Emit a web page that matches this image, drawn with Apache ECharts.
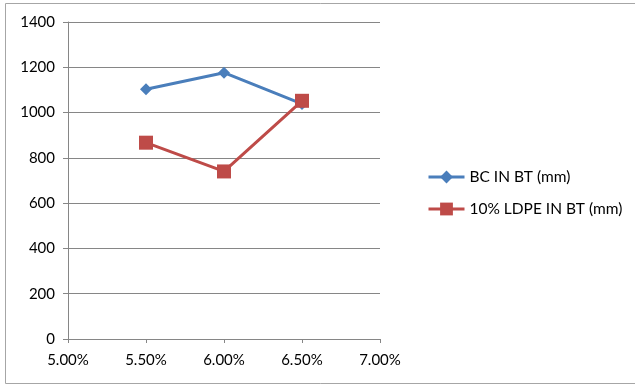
<!DOCTYPE html>
<html>
<head>
<meta charset="utf-8">
<script src="https://cdn.jsdelivr.net/npm/echarts@6/dist/echarts.min.js"></script>
<style>
html,body{margin:0;padding:0;background:#fff;}
#chart{width:635px;height:387px;}
</style>
</head>
<body>
<div id="chart"></div>
<script>
// Asphalt content (%) on the x axis
const contents = [5.5, 6.0, 6.5];
const seriesNames = ['BC IN BT (mm)', '10% LDPE IN BT (mm)'];
const bcValues = [1103, 1176, 1038];
const ldpeValues = [867, 740, 1052];
const yTicks = [0, 200, 400, 600, 800, 1000, 1200, 1400];

const chart = echarts.init(document.getElementById('chart'));
const font = 'Lato, "Open Sans", sans-serif';

chart.setOption({
  animation: false,
  textStyle: { fontFamily: font },
  graphic: [{
    type: 'rect',
    shape: { x: 5.5, y: 3.5, width: 640, height: 380 },
    style: { fill: 'none', stroke: '#a6a6a6', lineWidth: 1 }
  }],
  grid: { left: 68, right: 255, top: 22, bottom: 48, containLabel: false },
  xAxis: {
    type: 'value',
    min: 5.0, max: 7.0, interval: 0.5,
    axisLine: { show: true, lineStyle: { color: '#868686', width: 1 } },
    axisTick: { show: true, length: 4, lineStyle: { color: '#868686' } },
    splitLine: { show: false },
    axisLabel: {
      color: '#000', fontSize: 15, fontFamily: font, margin: 14,
      formatter: v => v.toFixed(2) + '%'
    }
  },
  yAxis: {
    type: 'value',
    min: yTicks[0], max: yTicks[yTicks.length - 1], interval: 200,
    axisLine: { show: true, lineStyle: { color: '#868686', width: 1 } },
    axisTick: { show: true, length: 5, lineStyle: { color: '#868686' } },
    splitLine: { show: true, lineStyle: { color: '#868686', width: 1 } },
    axisLabel: {
      color: '#000', fontSize: 15, fontFamily: font, margin: 13,
      formatter: v => String(v)
    }
  },
  legend: {
    orient: 'vertical',
    left: 427, top: 169, padding: 0,
    itemWidth: 36, itemHeight: 16, itemGap: 16,
    lineStyle: { width: 3 },
    textStyle: { color: '#000', fontSize: 15.5, fontFamily: font },
    data: seriesNames
  },
  series: [
    {
      name: seriesNames[0],
      type: 'line',
      data: contents.map((c, i) => [c, bcValues[i]]),
      symbol: 'diamond', symbolSize: 12,
      lineStyle: { color: '#4a7ebb', width: 3 },
      itemStyle: { color: '#4a7ebb' }
    },
    {
      name: seriesNames[1],
      type: 'line',
      data: contents.map((c, i) => [c, ldpeValues[i]]),
      symbol: 'rect', symbolSize: 14,
      lineStyle: { color: '#be4b48', width: 3 },
      itemStyle: { color: '#be4b48' }
    }
  ]
});
</script>
</body>
</html>
